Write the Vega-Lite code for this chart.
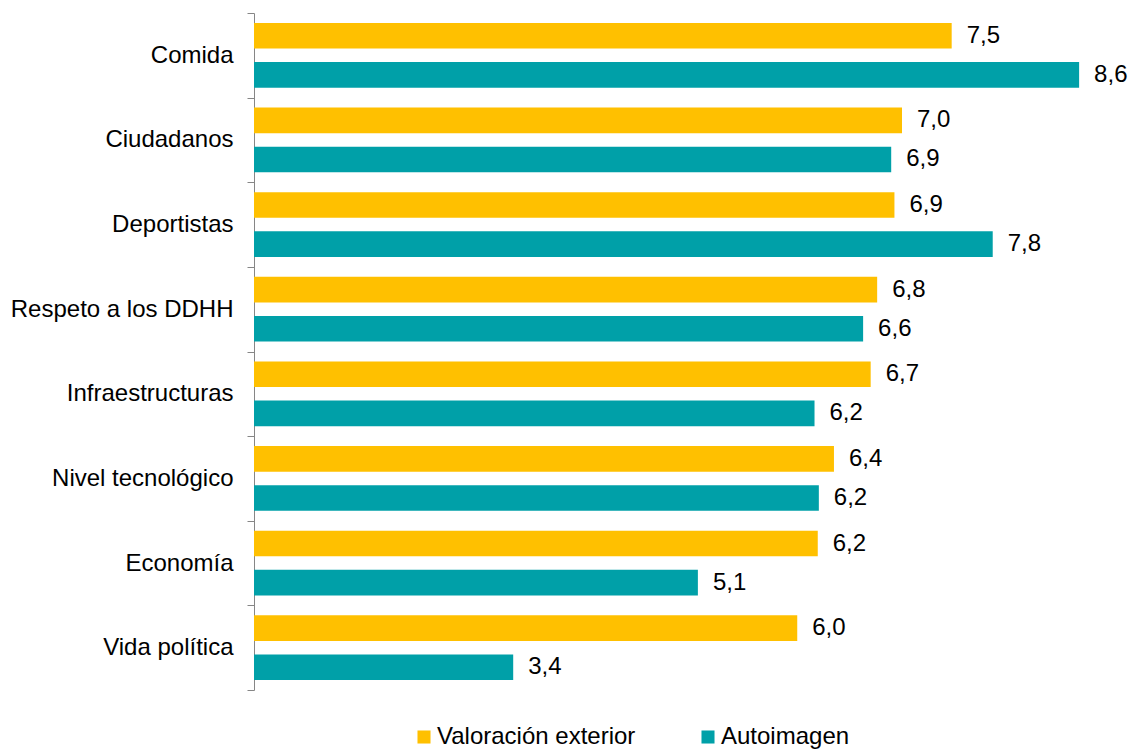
{
  "$schema": "https://vega.github.io/schema/vega-lite/v6.json",
  "width": 864,
  "height": 677,
  "autosize": {"type": "none"},
  "padding": {"left": 254, "top": 13, "right": 12, "bottom": 61},
  "config": {
    "view": {"stroke": null},
    "font": "Liberation Sans",
    "locale": {"number": {"decimal": ",", "thousands": ".", "grouping": [3], "currency": ["", " €"]}}
  },
  "data": {
    "values": [
      {"categoria": "Comida", "serie": "Valoración exterior", "valor": 7.46},
      {"categoria": "Comida", "serie": "Autoimagen", "valor": 8.64},
      {"categoria": "Ciudadanos", "serie": "Valoración exterior", "valor": 7.0},
      {"categoria": "Ciudadanos", "serie": "Autoimagen", "valor": 6.9},
      {"categoria": "Deportistas", "serie": "Valoración exterior", "valor": 6.93},
      {"categoria": "Deportistas", "serie": "Autoimagen", "valor": 7.84},
      {"categoria": "Respeto a los DDHH", "serie": "Valoración exterior", "valor": 6.77},
      {"categoria": "Respeto a los DDHH", "serie": "Autoimagen", "valor": 6.64},
      {"categoria": "Infraestructuras", "serie": "Valoración exterior", "valor": 6.71},
      {"categoria": "Infraestructuras", "serie": "Autoimagen", "valor": 6.19},
      {"categoria": "Nivel tecnológico", "serie": "Valoración exterior", "valor": 6.37},
      {"categoria": "Nivel tecnológico", "serie": "Autoimagen", "valor": 6.23},
      {"categoria": "Economía", "serie": "Valoración exterior", "valor": 6.22},
      {"categoria": "Economía", "serie": "Autoimagen", "valor": 5.11},
      {"categoria": "Vida política", "serie": "Valoración exterior", "valor": 6.03},
      {"categoria": "Vida política", "serie": "Autoimagen", "valor": 3.4}
    ]
  },
  "encoding": {
    "y": {
      "field": "categoria",
      "type": "nominal",
      "sort": ["Comida", "Ciudadanos", "Deportistas", "Respeto a los DDHH", "Infraestructuras", "Nivel tecnológico", "Economía", "Vida política"],
      "scale": {"paddingInner": 0, "paddingOuter": 0},
      "axis": {
        "title": null,
        "domainColor": "#868686",
        "tickColor": "#868686",
        "tickSize": 7,
        "tickBand": "extent",
        "labelPadding": 14,
        "labelFontSize": 24,
        "labelLimit": 400,
        "labelColor": "#000000",
        "labelFont": "Liberation Sans",
        "grid": false
      }
    },
    "yOffset": {
      "field": "serie",
      "sort": ["Valoración exterior", "Autoimagen"],
      "scale": {"paddingInner": 0.344, "paddingOuter": 0.256}
    },
    "x": {
      "field": "valor",
      "type": "quantitative",
      "scale": {"domain": [1, 9], "zero": false, "nice": false},
      "axis": null
    }
  },
  "layer": [
    {
      "mark": {"type": "bar"},
      "encoding": {
        "x2": {"datum": 1},
        "color": {
          "field": "serie",
          "type": "nominal",
          "scale": {"domain": ["Valoración exterior", "Autoimagen"], "range": ["#FFC000", "#00A0A8"]},
          "legend": {
            "title": null,
            "orient": "none",
            "direction": "horizontal",
            "legendX": 158,
            "legendY": 712,
            "symbolType": "square",
            "symbolSize": 170,
            "symbolStrokeWidth": 0,
            "labelFontSize": 24,
            "labelLimit": 400,
            "labelColor": "#000000",
            "labelFont": "Liberation Sans",
            "labelOffset": 1,
            "columnPadding": 60
          }
        }
      }
    },
    {
      "mark": {"type": "text", "align": "left", "baseline": "middle", "dx": 15, "fontSize": 24, "color": "#000000", "font": "Liberation Sans"},
      "encoding": {
        "text": {"field": "valor", "type": "quantitative", "format": ".1f"}
      }
    }
  ]
}
